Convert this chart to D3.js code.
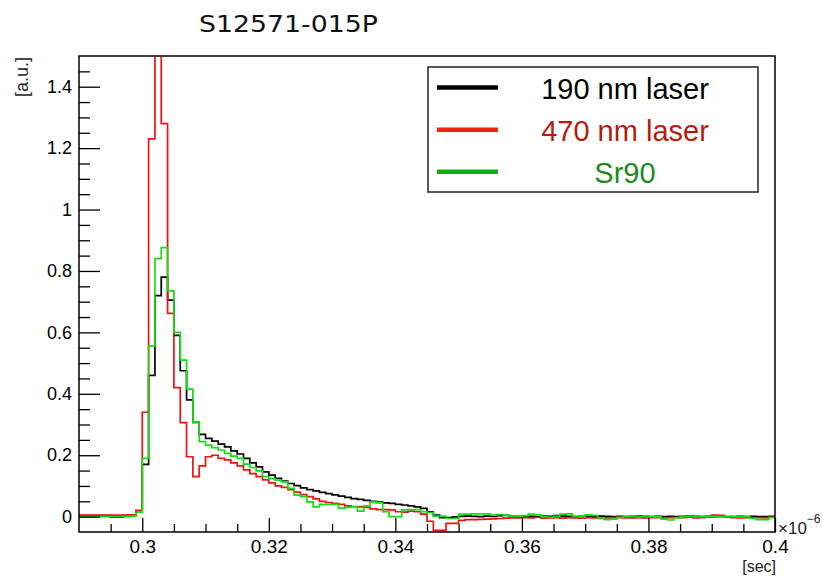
<!DOCTYPE html>
<html>
<head>
<meta charset="utf-8">
<script src="https://cdn.jsdelivr.net/npm/d3@7"></script>
<style>
  html, body { margin: 0; padding: 0; background: #fff; }
  svg { display: block; }
  text { font-family: "Liberation Sans", Arial, Helvetica, sans-serif; }
</style>
</head>
<body>
<script>
// ---------- data ----------
const title = "S12571-015P";
const xStart = 0.290;          // left edge of first bin
const binWidth = 0.001;        // bin width (sec ×10^-6)
const xDomain = [0.29, 0.40];
const yDomain = [-0.05, 1.5];

const seriesNames = ["190 nm laser", "470 nm laser", "Sr90"];

// bins 0.290 .. 0.399
const black190 = [
  0.003,0.003,0.003,0.003,0.003,-0.002,-0.002,0.003,0.004,0.020,
  0.17,0.46,0.72,0.78,0.705,0.59,0.475,0.38,0.307,0.268,
  0.255,0.246,0.236,0.227,0.214,0.204,0.19,0.175,0.162,0.146,
  0.135,0.125,0.116,0.108,0.101,0.094,0.088,0.084,0.079,0.075,
  0.071,0.067,0.063,0.059,0.056,0.053,0.050,0.047,0.045,0.043,
  0.040,0.038,0.035,0.032,0.027,0.016,0.005,-0.003,-0.003,-0.001,
  0.001,0.002,0.001,0.000,0.002,0.001,0.003,0.004,0.002,0.001,
  0.002,0.001,0.000,0.002,0.001,0.003,0.002,0.001,0.000,0.001,
  0.001,0.000,0.002,0.001,0.000,0.001,0.000,0.001,0.002,0.001,
  0.000,0.001,0.000,0.001,0.000,0.001,0.002,0.001,0.000,0.001,
  0.000,0.001,0.000,0.000,0.001,0.000,0.001,0.000,0.000,0.001
];
const red470 = [
  0.005,0.005,0.005,0.005,0.005,0.005,0.005,0.005,0.006,0.020,
  0.34,1.23,1.62,1.28,0.662,0.42,0.306,0.195,0.13,0.165,
  0.195,0.20,0.19,0.185,0.175,0.165,0.152,0.14,0.13,0.12,
  0.11,0.10,0.095,0.088,0.08,0.072,0.065,0.058,0.050,0.046,
  0.043,0.040,0.035,0.033,0.032,0.030,0.025,0.023,0.023,0.022,
  0.016,0.015,0.018,0.016,0.008,-0.015,-0.045,-0.045,-0.022,-0.022,
  -0.012,-0.010,-0.010,-0.009,-0.008,-0.007,-0.006,-0.005,-0.004,-0.004,
  -0.003,-0.004,-0.002,-0.005,-0.004,-0.003,-0.005,-0.003,-0.004,-0.005,
  -0.003,-0.004,-0.006,-0.004,-0.003,-0.003,-0.004,-0.004,-0.003,-0.004,
  -0.003,-0.003,-0.004,-0.003,-0.003,-0.003,-0.002,-0.004,-0.003,-0.002,
  0.005,0.004,-0.002,-0.003,-0.004,-0.003,-0.004,-0.003,-0.004,-0.002
];
const greenSr90 = [
  0.000,0.000,0.000,0.000,0.000,0.000,0.000,0.000,0.002,0.015,
  0.19,0.555,0.84,0.876,0.735,0.60,0.51,0.415,0.307,0.244,
  0.233,0.225,0.217,0.206,0.197,0.19,0.171,0.16,0.149,0.13,
  0.124,0.119,0.113,0.092,0.07,0.065,0.048,0.032,0.040,0.040,
  0.040,0.028,0.030,0.032,0.018,0.035,0.048,0.045,0.016,0.000,
  0.000,0.022,0.023,0.023,0.016,0.013,0.002,0.002,-0.006,-0.006,
  0.008,0.008,0.009,0.009,0.009,0.005,0.007,0.005,0.002,0.002,
  0.003,0.008,0.006,0.000,-0.002,0.001,0.008,0.009,0.002,0.000,
  0.006,0.004,-0.004,-0.010,-0.008,-0.002,0.000,0.001,0.000,0.001,
  0.000,-0.001,-0.008,-0.011,-0.004,0.000,0.001,0.000,0.000,0.000,
  0.001,0.000,0.000,0.000,-0.001,0.000,-0.006,-0.010,-0.010,-0.003
];

const yMajorTicks = [0, 0.2, 0.4, 0.6, 0.8, 1.0, 1.2, 1.4];
const yTickLabels = ["0", "0.2", "0.4", "0.6", "0.8", "1", "1.2", "1.4"];
const xMajorTicks = [0.30, 0.32, 0.34, 0.36, 0.38, 0.40];
const xTickLabels = ["0.3", "0.32", "0.34", "0.36", "0.38", "0.4"];
const yMinorStep = 0.05;
const xMinorStep = 0.005;

// ---------- layout / style ----------
const W = 822, H = 576;
const plot = { left: 79, right: 775, top: 56, bottom: 532 };
const colors = ["#000000", "#f01212", "#12e012"];
const legendLineColors = ["#000000", "#f0230f", "#12aa12"];
const legendTextColors = ["#000000", "#b81a0e", "#1e8a1e"];

const svg = d3.select("body").append("svg").attr("width", W).attr("height", H);

const x = d3.scaleLinear().domain(xDomain).range([plot.left, plot.right]);
const y = d3.scaleLinear().domain(yDomain).range([plot.bottom, plot.top]);

// clip
svg.append("clipPath").attr("id", "clip")
  .append("rect")
  .attr("x", plot.left).attr("y", plot.top)
  .attr("width", plot.right - plot.left).attr("height", plot.bottom - plot.top);

// ---------- histograms ----------
function stepPoints(vals) {
  const pts = vals.map((v, i) => [xStart + i * binWidth, v]);
  pts.push([xStart + vals.length * binWidth, vals[vals.length - 1]]);
  return pts;
}
const line = d3.line()
  .x(d => x(d[0])).y(d => y(d[1]))
  .curve(d3.curveStepAfter);

const gData = svg.append("g").attr("clip-path", "url(#clip)");
[black190, red470, greenSr90].forEach((vals, k) => {
  gData.append("path")
    .attr("d", line(stepPoints(vals)))
    .attr("fill", "none")
    .attr("stroke", colors[k])
    .attr("stroke-width", 1.7)
    .attr("stroke-linejoin", "miter");
});

// ---------- axes ----------
const nYMinor = Math.round((yDomain[1] - yDomain[0]) / yMinorStep);
const yMinor = d3.range(1, nYMinor).map(i => +(yDomain[0] + i * yMinorStep).toFixed(3))
  .filter(v => !yMajorTicks.some(m => Math.abs(m - v) < 1e-6));
const nXMinor = Math.round((xDomain[1] - xDomain[0]) / xMinorStep);
const xMinor = d3.range(1, nXMinor + 1).map(i => +(xDomain[0] + i * xMinorStep).toFixed(4))
  .filter(v => !xMajorTicks.some(m => Math.abs(m - v) < 1e-6));

const yAxisMajor = d3.axisLeft(y).tickValues(yMajorTicks)
  .tickFormat((d, i) => yTickLabels[i]).tickSizeInner(-21).tickSizeOuter(0).tickPadding(7);
const yAxisMinor = d3.axisLeft(y).tickValues(yMinor).tickFormat("").tickSizeInner(-11).tickSizeOuter(0);
const xAxisMajor = d3.axisBottom(x).tickValues(xMajorTicks)
  .tickFormat((d, i) => xTickLabels[i]).tickSizeInner(-14).tickSizeOuter(0).tickPadding(8);
const xAxisMinor = d3.axisBottom(x).tickValues(xMinor).tickFormat("").tickSizeInner(-8).tickSizeOuter(0);

function styleAxis(g, fs) {
  g.select(".domain").remove();
  g.selectAll(".tick line").attr("stroke", "#000").attr("stroke-width", 1.3);
  g.selectAll(".tick text").attr("fill", "#000").style("font-size", fs + "px")
    .style("font-family", "'Liberation Sans', Arial, sans-serif");
}
svg.append("g").attr("transform", `translate(${plot.left},0)`).call(yAxisMinor).call(g => styleAxis(g, 18));
svg.append("g").attr("transform", `translate(${plot.left},0)`).call(yAxisMajor).call(g => styleAxis(g, 18));
svg.append("g").attr("transform", `translate(0,${plot.bottom})`).call(xAxisMinor).call(g => styleAxis(g, 19));
svg.append("g").attr("transform", `translate(0,${plot.bottom})`).call(xAxisMajor).call(g => styleAxis(g, 19));

// frame
svg.append("rect")
  .attr("x", plot.left).attr("y", plot.top)
  .attr("width", plot.right - plot.left).attr("height", plot.bottom - plot.top)
  .attr("fill", "none").attr("stroke", "#000").attr("stroke-width", 1.5);

// ---------- texts ----------
svg.append("text")
  .attr("x", 199).attr("y", 31.5)
  .attr("textLength", 179).attr("lengthAdjust", "spacingAndGlyphs")
  .style("font-family", "'DejaVu Sans', sans-serif")
  .style("font-size", "23px").attr("fill", "#111")
  .text(title);

svg.append("text")
  .attr("transform", "translate(28,57) rotate(-90)")
  .attr("text-anchor", "end")
  .style("font-size", "18px").attr("fill", "#222")
  .text("[a.u.]");

svg.append("text")
  .attr("x", 776).attr("y", 571.5)
  .attr("text-anchor", "end")
  .style("font-size", "16px").attr("fill", "#222")
  .text("[sec]");

const mult = svg.append("text")
  .attr("x", 778).attr("y", 534)
  .style("font-size", "17px").attr("fill", "#222");
mult.append("tspan").text("×10");
mult.append("tspan").attr("dy", -11).style("font-size", "12px").text("−6");

// ---------- legend ----------
const leg = svg.append("g");
leg.append("rect")
  .attr("x", 428).attr("y", 67).attr("width", 330).attr("height", 125)
  .attr("fill", "#fff").attr("stroke", "#222").attr("stroke-width", 1.5);
const legY = [87.5, 129.7, 171.7];
seriesNames.forEach((name, k) => {
  leg.append("line")
    .attr("x1", 437).attr("x2", 498)
    .attr("y1", legY[k]).attr("y2", legY[k])
    .attr("stroke", legendLineColors[k]).attr("stroke-width", 4.5);
  leg.append("text")
    .attr("x", 625).attr("y", legY[k] + 11)
    .attr("text-anchor", "middle")
    .style("font-size", "29px")
    .attr("fill", legendTextColors[k])
    .text(name);
});
</script>
</body>
</html>
